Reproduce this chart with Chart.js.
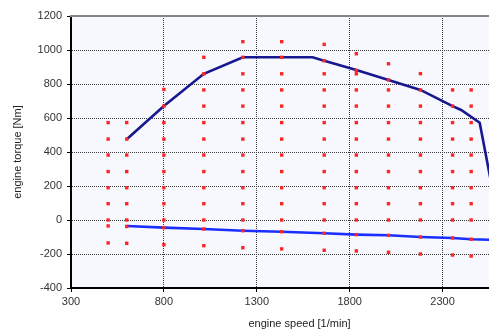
<!DOCTYPE html>
<html>
<head>
<meta charset="utf-8">
<script src="https://cdn.jsdelivr.net/npm/chart.js@4"></script>
<style>
  html, body { margin: 0; padding: 0; background: #fff; overflow: hidden; }
  canvas { display: block; }
</style>
</head>
<body>
<canvas id="chart" width="528" height="331"></canvas>
<script>
// Engine map: measured operating points, full load curve and motoring curve.
// The plot runs a little past the right edge of the window, like the original.

const X_TICKS = [300, 800, 1300, 1800, 2300];
const Y_TICKS = [-400, -200, 0, 200, 400, 600, 800, 1000, 1200];

// operating points, one torque list per speed column
const POINT_SPEEDS = [500, 600, 800, 1015, 1225, 1434, 1663, 1836, 2009, 2181, 2354, 2454];
const POINT_TORQUES = [
  [-135, -35, 0, 96, 190, 285, 382, 476, 573],
  [-137, -38, 0, 96, 190, 285, 382, 476, 573],
  [-145, -45, 0, 96, 190, 285, 382, 476, 573, 670, 768],
  [-151, -53, 0, 96, 190, 285, 382, 476, 573, 670, 765, 860, 957],
  [-163, -63, 0, 96, 190, 285, 382, 476, 573, 670, 765, 860, 957, 1049],
  [-170, -69, 0, 96, 190, 285, 382, 476, 573, 670, 765, 860, 957, 1049],
  [-178, -78, 0, 96, 190, 285, 382, 476, 573, 670, 765, 860, 937, 1033],
  [-182, -86, 0, 96, 190, 285, 382, 476, 573, 670, 765, 860, 880, 978],
  [-190, -90, 0, 96, 190, 285, 382, 476, 573, 670, 765, 824, 919],
  [-200, -100, 0, 96, 190, 285, 382, 476, 573, 670, 765, 861],
  [-206, -106, 0, 96, 190, 285, 382, 476, 573, 670, 765],
  [-212, -113, 0, 96, 190, 285, 382, 476, 573, 670, 765],
];

// full load torque curve
const FL_SPEED  = [600, 800, 1015, 1225, 1600, 1663, 1836, 2009, 2181, 2354, 2400, 2500, 2600];
const FL_TORQUE = [475, 670, 860, 957, 957, 937, 882, 824, 765, 670, 647, 572, 0];

// motoring (drag) torque curve
const MOT_SPEED  = [600, 800, 1015, 1225, 1434, 1663, 1836, 2009, 2181, 2354, 2454, 2600];
const MOT_TORQUE = [-35, -45, -53, -63, -69, -78, -86, -90, -100, -106, -113, -118];

const points = [];
POINT_SPEEDS.forEach((s, i) => {
  POINT_TORQUES[i].forEach(t => points.push({ x: s, y: t }));
});
const fullLoad = FL_SPEED.map((s, i) => ({ x: s, y: FL_TORQUE[i] }));
const motoring = MOT_SPEED.map((s, i) => ({ x: s, y: MOT_TORQUE[i] }));

const axisFont = { family: "'Liberation Sans', Arial, sans-serif", size: 11 };

// light plot background and the grey frame line on top
const plotFrame = {
  id: 'plotFrame',
  beforeDraw(chart) {
    const { ctx, chartArea: a } = chart;
    ctx.save();
    ctx.fillStyle = '#f7f8fe';
    ctx.fillRect(a.left, a.top, chart.width - a.left, a.bottom - a.top);
    ctx.restore();
  },
  afterDraw(chart) {
    const { ctx, chartArea: a } = chart;
    ctx.save();
    ctx.strokeStyle = '#858585';
    ctx.lineWidth = 2;
    ctx.beginPath();
    ctx.moveTo(a.left - 1, a.top);
    ctx.lineTo(chart.width, a.top);
    ctx.stroke();
    ctx.restore();
  }
};

new Chart(document.getElementById('chart'), {
  type: 'scatter',
  data: {
    datasets: [
      {
        label: 'operating points',
        data: points,
        pointStyle: 'rect',
        pointRadius: 2.4,
        pointBorderWidth: 0,
        pointBackgroundColor: '#ff2424',
        showLine: false,
      },
      {
        label: 'full load',
        data: fullLoad,
        showLine: true,
        borderColor: '#17178f',
        borderWidth: 2.6,
        pointRadius: 0,
      },
      {
        label: 'motoring',
        data: motoring,
        showLine: true,
        borderColor: '#1a2eff',
        borderWidth: 2.6,
        pointRadius: 0,
      },
    ]
  },
  options: {
    responsive: false,
    animation: false,
    layout: { autoPadding: false, padding: { top: 16, right: 0, left: 0, bottom: 0 } },
    plugins: {
      legend: { display: false },
      tooltip: { enabled: false }
    },
    scales: {
      x: {
        type: 'linear',
        min: 300,
        max: 2760,
        afterBuildTicks: (s) => { s.ticks = X_TICKS.map(v => ({ value: v })); },
        afterFit: (s) => { s.height = 43; },
        grid: { color: '#3a3a3a', lineWidth: 1, tickLength: 4, tickColor: '#000', tickWidth: 1 },
        border: { color: '#000', width: 2, dash: [1, 1] },
        ticks: { color: '#333', font: axisFont, padding: 3, maxRotation: 0, callback: (v) => String(v) },
        title: { display: true, text: 'engine speed [1/min]', color: '#222', font: axisFont, padding: { top: 0, bottom: 0 } }
      },
      y: {
        type: 'linear',
        min: -400,
        max: 1200,
        afterBuildTicks: (s) => { s.ticks = Y_TICKS.map(v => ({ value: v })); },
        afterFit: (s) => { s.width = 71; },
        grid: { color: '#3a3a3a', lineWidth: 1, tickLength: 4, tickColor: '#000', tickWidth: 1 },
        border: { color: '#000', width: 2, dash: [1, 1] },
        ticks: { color: '#333', font: axisFont, padding: 5, callback: (v) => String(v) },
        title: { display: true, text: 'engine torque [Nm]', color: '#222', font: axisFont, padding: { top: 11, bottom: 0 } }
      }
    }
  },
  plugins: [plotFrame]
});
</script>
</body>
</html>
